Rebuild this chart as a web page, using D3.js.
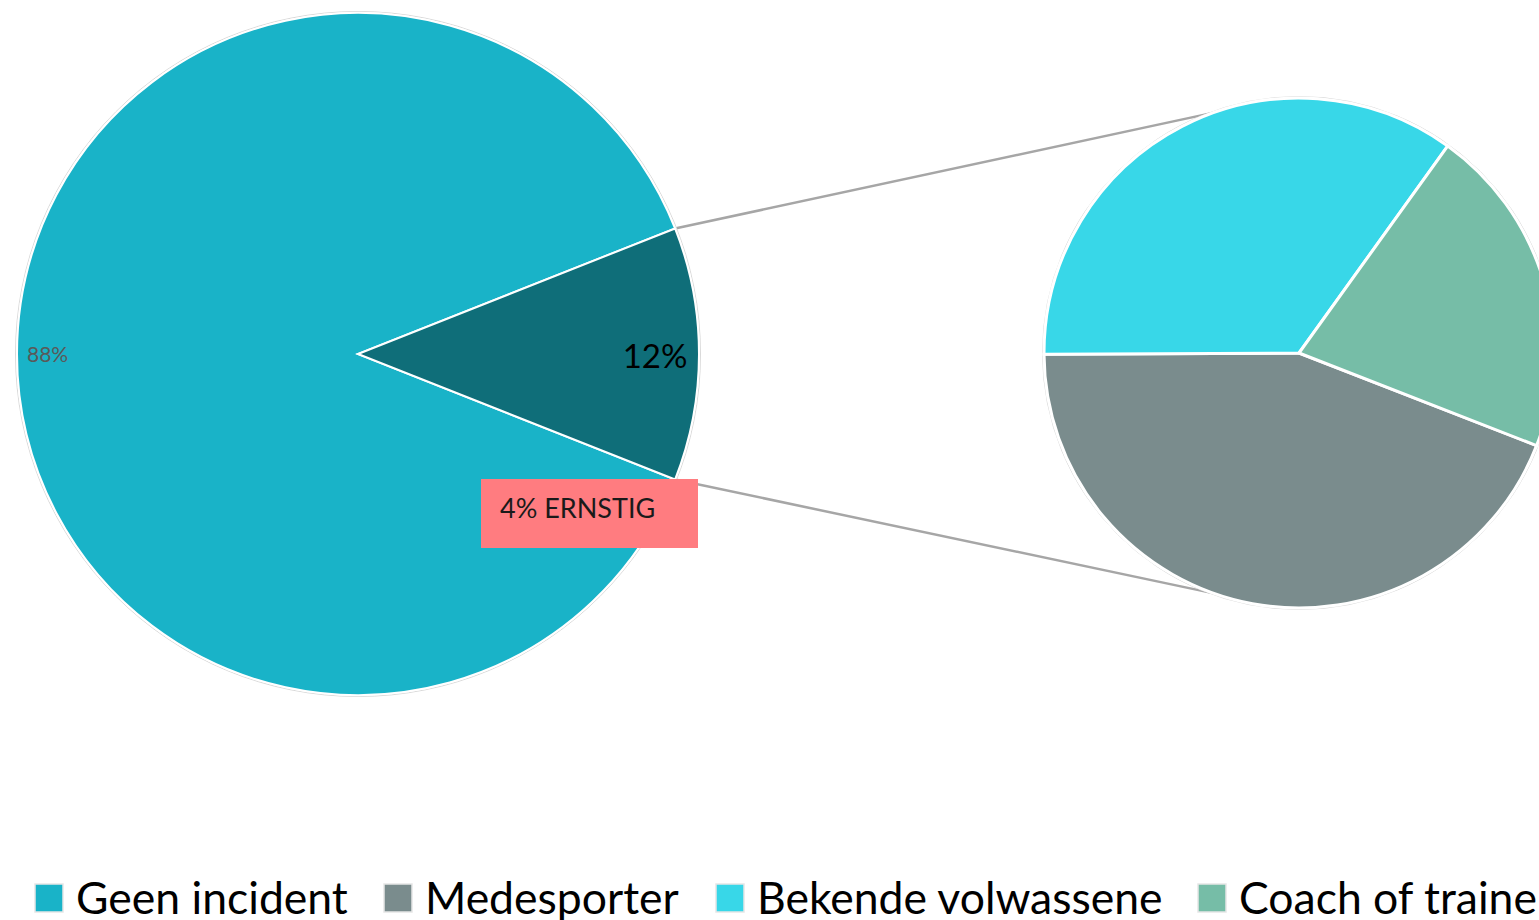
<!DOCTYPE html>
<html>
<head>
<meta charset="utf-8">
<script src="https://cdn.jsdelivr.net/npm/d3@7"></script>
<style>
  body { margin: 0; background: #fff; }
  svg { display: block; font-family: Lato, "Open Sans", sans-serif; }
</style>
</head>
<body>
<svg id="chart" width="1539" height="920"></svg>
<script>
// main pie: share of "geen incident" vs. incident (the 12% is split out in the second pie)
const mainLabels = ["Geen incident", "Incident"];
const mainValues = [88, 12];
const mainColors = ["#19b3c8", "#0f6e79"];

// second pie: who was involved
const subLabels = ["Medesporter", "Bekende volwassene", "Coach of trainer"];
const subValues = [44, 35, 21];
const subColors = ["#7a8c8d", "#38d7e8", "#76bda7"];

const legendLabels = ["Geen incident", "Medesporter", "Bekende volwassene", "Coach of trainer"];
const legendColors = [mainColors[0], subColors[0], subColors[1], subColors[2]];

const calloutText = "4% ERNSTIG";

const svg = d3.select("#chart");
const deg = Math.PI / 180;

const main = { cx: 358, cy: 354, r: 341 };
const sub = { cx: 1299, cy: 353, r: 255 };

// main pie: incident slice centred on 3 o'clock
const incAngle = 2 * Math.PI * mainValues[1] / d3.sum(mainValues);
const mainPie = d3.pie().sort(null).startAngle(Math.PI / 2 + incAngle / 2).endAngle(Math.PI / 2 + incAngle / 2 + 2 * Math.PI);
const mainArcs = mainPie(mainValues);
const mainArc = d3.arc().innerRadius(0).outerRadius(main.r);

// second pie starts at roughly 111 deg (clockwise from top)
const subStart = 111.3 * deg;
const subPie = d3.pie().sort(null).startAngle(subStart).endAngle(subStart + 2 * Math.PI);
const subArcs = subPie(subValues);
const subArc = d3.arc().innerRadius(0).outerRadius(sub.r);

// connector lines
const incSlice = mainArcs[1];
const pt = (c, r, a) => [c.cx + r * Math.sin(a), c.cy - r * Math.cos(a)];
const conn = svg.append("g").attr("stroke", "#a6a6a6").attr("stroke-width", 2.5).attr("fill", "none");
[[incSlice.startAngle, -19.5 * deg], [incSlice.endAngle, Math.PI + 19.5 * deg]].forEach(([a0, a1]) => {
  const p0 = pt(main, main.r, a0);
  const p1 = pt(sub, sub.r, a1);
  conn.append("line").attr("x1", p0[0]).attr("y1", p0[1]).attr("x2", p1[0]).attr("y2", p1[1]);
});

// faint outlines
svg.append("circle").attr("cx", main.cx).attr("cy", main.cy).attr("r", main.r + 1.5)
  .attr("fill", "none").attr("stroke", "#d9d9d9").attr("stroke-width", 1);
svg.append("circle").attr("cx", sub.cx).attr("cy", sub.cy).attr("r", sub.r + 1.5)
  .attr("fill", "none").attr("stroke", "#d9d9d9").attr("stroke-width", 1);

const gMain = svg.append("g").attr("transform", `translate(${main.cx},${main.cy})`);
gMain.selectAll("path").data(mainArcs).join("path")
  .attr("d", mainArc)
  .attr("fill", (d, i) => mainColors[i])
  .attr("stroke", "#fff").attr("stroke-width", 2);

const gSub = svg.append("g").attr("transform", `translate(${sub.cx},${sub.cy})`);
gSub.selectAll("path").data(subArcs).join("path")
  .attr("d", subArc)
  .attr("fill", (d, i) => subColors[i])
  .attr("stroke", "#fff").attr("stroke-width", 3);

// data labels
svg.append("text").attr("x", 27).attr("y", main.cy + 1).attr("dy", "0.35em")
  .attr("font-size", 21).attr("fill", "#595959").text(mainValues[0] + "%");
svg.append("text").attr("x", 655).attr("y", main.cy + 2).attr("dy", "0.35em")
  .attr("text-anchor", "middle").attr("font-size", 33).attr("fill", "#000").text(mainValues[1] + "%");

// callout box
svg.append("rect").attr("x", 481).attr("y", 479).attr("width", 217).attr("height", 69).attr("fill", "#ff7c80");
svg.append("text").attr("x", 500).attr("y", 509).attr("dy", "0.35em")
  .attr("font-size", 27).attr("fill", "#1a1a1a").text(calloutText);

// legend
const legendX = [35, 384, 716, 1198];
const leg = svg.append("g");
legendLabels.forEach((l, i) => {
  leg.append("rect").attr("x", legendX[i]).attr("y", 884).attr("width", 28).attr("height", 28)
    .attr("fill", legendColors[i]).attr("stroke", "#e6e6e6").attr("stroke-width", 1.5);
  leg.append("text").attr("x", legendX[i] + 41).attr("y", 898).attr("dy", "0.36em")
    .attr("font-size", 44.5).attr("fill", "#000").text(l);
});
</script>
</body>
</html>
